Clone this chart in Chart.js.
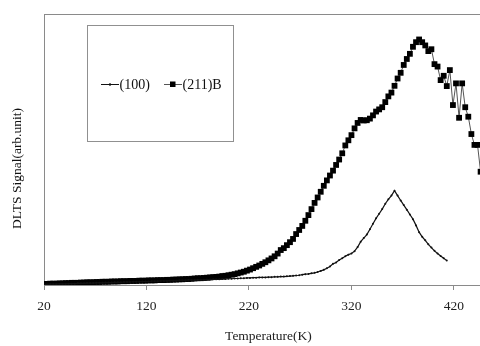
<!DOCTYPE html>
<html>
<head>
<meta charset="utf-8">
<script src="https://cdn.jsdelivr.net/npm/chart.js@4"></script>
<style>
  html, body { margin: 0; padding: 0; background: #fff; overflow: hidden; }
  #wrap { width: 480px; height: 346px; overflow: hidden; }
</style>
</head>
<body>
<!-- the source figure is cropped on the right: draw a wider canvas and let the window cut it -->
<div id="wrap"><canvas id="dlts" width="497" height="346"></canvas></div>
<script>
// temperature grid (K)
const temps = [20,23,26,29,32,35,38,41,44,47,50,53,56,59,62,65,68,71,74,77,80,83,86,89,92,95,98,101,104,107,110,113,116,119,122,125,128,131,134,137,140,143,146,149,152,155,158,161,164,167,170,173,176,179,182,185,188,191,194,197,200,203,206,209,212,215,218,221,224,227,230,233,236,239,242,245,248,251,254,257,260,263,266,269,272,275,278,281,284,287,290,293,296,299,302,305,308,311,314,317,320,323,326,329,332,335,338,341,344,347,350,353,356,359,362,365,368,371,374,377,380,383,386,389,392,395,398,401,404,407,410,413,416,419,422,425,428,431,434,437,440,443,446,449,452];

// (100) signal (arb. units)
const signal100 = [
  0.2,0.2,0.3,0.3,0.3,0.4,0.4,0.4,0.5,0.5,0.5,0.6,0.6,0.6,
  0.7,0.7,0.7,0.8,0.8,0.8,0.9,0.9,0.9,1.0,1.0,1.0,1.1,1.1,
  1.1,1.2,1.2,1.2,1.3,1.3,1.3,1.4,1.4,1.4,1.5,1.5,1.5,1.6,
  1.6,1.6,1.7,1.7,1.7,1.8,1.8,1.8,1.9,1.9,1.9,2.0,2.0,2.1,
  2.1,2.1,2.2,2.2,2.3,2.3,2.4,2.4,2.5,2.5,2.6,2.6,2.7,2.7,
  2.8,2.8,2.8,2.9,2.9,3.0,3.0,3.1,3.1,3.2,3.3,3.4,3.5,3.6,
  3.8,4.0,4.1,4.3,4.5,4.8,5.2,5.6,6.2,6.8,7.8,8.3,9.2,9.9,
  10.6,11.2,11.6,12.5,14.0,16.0,17.3,18.6,20.6,22.6,24.6,26.3,28.0,30.0,
  31.6,33.0,34.8,33.0,31.2,29.5,27.8,26.0,24.3,22.0,19.5,17.8,16.5,15.0,
  13.8,12.6,11.6,10.7,9.9,9.0
];

// (211)B signal
const signal211B = [
  0.4,0.4,0.5,0.5,0.5,0.6,0.6,0.7,0.7,0.8,0.8,0.8,0.9,0.9,
  1.0,1.0,1.0,1.1,1.1,1.2,1.2,1.2,1.3,1.3,1.3,1.4,1.4,1.4,
  1.5,1.5,1.5,1.6,1.6,1.6,1.7,1.7,1.7,1.8,1.8,1.8,1.9,1.9,
  2.0,2.0,2.1,2.1,2.2,2.2,2.3,2.4,2.5,2.5,2.6,2.7,2.8,2.9,
  3.0,3.1,3.3,3.4,3.6,3.8,4.0,4.3,4.6,4.9,5.3,5.7,6.2,6.7,
  7.2,7.8,8.4,9.1,9.8,10.6,11.6,12.9,13.6,14.7,15.8,17.0,18.8,20.3,
  21.8,23.7,25.8,28.0,30.3,32.3,34.4,36.6,38.6,40.4,42.2,44.3,46.3,48.6,
  51.5,53.4,55.3,57.8,59.8,60.9,60.7,60.8,61.4,62.6,64.0,64.8,65.6,67.5,
  69.6,71.0,73.5,76.2,78.3,81.2,83.4,85.3,87.9,89.6,90.6,89.6,88.4,86.3,
  87.0,81.5,80.6,75.6,77.2,73.4,79.3,66.4,74.4,61.7,74.4,65.6,62.1,55.7,
  51.7,51.7,41.8,39.4,33.0
];

const xTicks = [20, 120, 220, 320, 420];
const seriesNames = ['(100)', '(211)B'];

const FRAME = '#8a8a8a';
const FONT = 'Liberation Serif';

function toPoints(vals) {
  return vals.map((v, i) => ({ x: temps[i], y: v }));
}

// legend box, top frame line and rotated y title
const decor = {
  id: 'decor',
  afterDraw(chart) {
    const ctx = chart.ctx;
    const a = chart.chartArea;
    ctx.save();
    ctx.strokeStyle = FRAME;
    ctx.lineWidth = 1;
    ctx.beginPath();
    ctx.moveTo(a.left, a.top + 0.5);
    ctx.lineTo(chart.width, a.top + 0.5);
    ctx.stroke();

    // legend frame
    ctx.strokeStyle = '#909090';
    ctx.strokeRect(87.5, 25.5, 146, 116);

    ctx.font = '14px "' + FONT + '"';
    ctx.fillStyle = '#111';
    ctx.textBaseline = 'middle';
    ctx.textAlign = 'left';
    const ly = 84;
    // (100)
    ctx.strokeStyle = '#111';
    ctx.beginPath();
    ctx.moveTo(101, ly + 0.5); ctx.lineTo(119, ly + 0.5);
    ctx.stroke();
    ctx.beginPath(); ctx.arc(110, ly + 0.5, 1.2, 0, Math.PI * 2); ctx.fill();
    ctx.fillText(seriesNames[0], 119.5, ly + 1);
    // (211)B
    ctx.strokeStyle = '#555';
    ctx.beginPath();
    ctx.moveTo(164, ly + 0.5); ctx.lineTo(182, ly + 0.5);
    ctx.stroke();
    ctx.fillStyle = '#000';
    ctx.fillRect(170, ly - 2.5, 5.5, 5.5);
    ctx.fillStyle = '#111';
    ctx.fillText(seriesNames[1], 182.5, ly + 1);

    // y axis title
    ctx.translate(17, 168.5);
    ctx.rotate(-Math.PI / 2);
    ctx.textAlign = 'center';
    ctx.font = '13.5px "' + FONT + '"';
    ctx.fillText('DLTS Signal(arb.unit)', 0, 0);
    ctx.restore();
  }
};

new Chart(document.getElementById('dlts'), {
  type: 'line',
  data: {
    datasets: [
      {
        label: seriesNames[0],
        data: toPoints(signal100),
        borderColor: '#111',
        borderWidth: 1.2,
        pointRadius: 1.0,
        pointBackgroundColor: '#111',
        pointBorderWidth: 0,
        pointStyle: 'circle'
      },
      {
        label: seriesNames[1],
        data: toPoints(signal211B),
        borderColor: '#555',
        borderWidth: 1,
        pointRadius: 4.1,
        pointStyle: 'rect',
        pointBackgroundColor: '#000',
        pointBorderWidth: 0
      }
    ]
  },
  options: {
    responsive: false,
    animation: false,
    devicePixelRatio: 1,
    layout: { padding: { top: 14, left: 0, right: 0, bottom: 0 } },
    plugins: {
      legend: { display: false },
      tooltip: { enabled: false }
    },
    scales: {
      x: {
        type: 'linear',
        min: 20,
        max: 458,
        afterFit: s => { s.height = 61; },
        afterBuildTicks: s => { s.ticks = xTicks.map(v => ({ value: v })); },
        border: { display: true, color: FRAME, width: 1 },
        grid: { drawOnChartArea: false, drawTicks: true, tickLength: 5, color: FRAME },
        ticks: {
          padding: 8,
          maxRotation: 0,
          autoSkip: false,
          color: '#222',
          font: { family: FONT, size: 13.5 }
        },
        title: {
          display: true,
          text: 'Temperature(K)',
          color: '#222',
          padding: { top: 0, bottom: 1 },
          font: { family: FONT, size: 13.5 }
        }
      },
      y: {
        min: 0,
        max: 100,
        afterFit: s => { s.width = 44; },
        border: { display: true, color: FRAME, width: 1 },
        grid: { display: false, drawTicks: false },
        ticks: { display: false }
      }
    }
  },
  plugins: [decor]
});
</script>
</body>
</html>
